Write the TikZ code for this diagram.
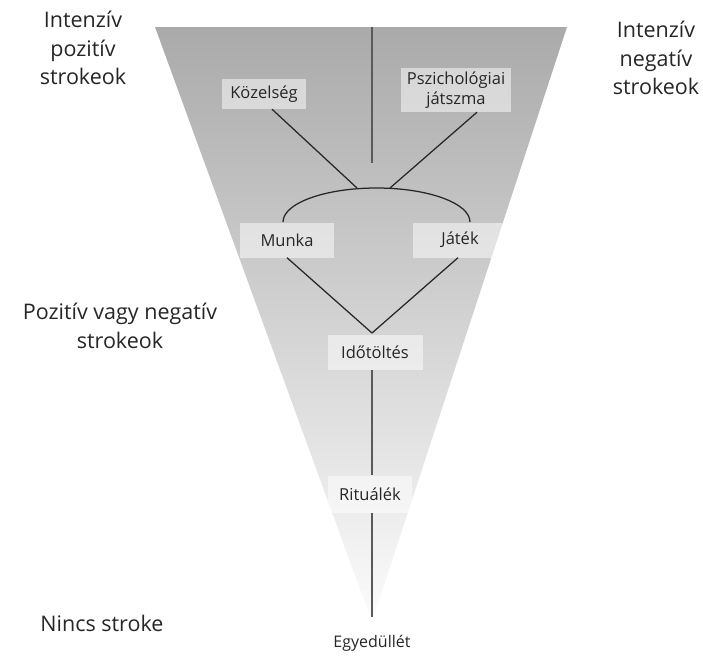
\documentclass[tikz,border=0pt]{standalone}
\usepackage{fontspec}
\setmainfont{Open Sans}
\definecolor{topgray}{RGB}{170,170,170}
\definecolor{midgray}{RGB}{212,212,212}
\definecolor{botgray}{RGB}{252,252,252}
\definecolor{linegray}{RGB}{90,90,90}
\tikzset{
  lbl/.style={align=center, font=\fontsize{21.5}{28.5}\selectfont, text=black!85},
  box/.style={fill=white, fill opacity=0.5, text opacity=1, inner sep=0pt, align=center,
              font=\fontsize{16.5}{20}\selectfont, text=black!85},
  conn/.style={draw=black!85, line width=1.25pt},
  vline/.style={draw=linegray, line width=1.25pt}
}
\begin{document}
\begin{tikzpicture}[x=1pt,y=-1pt]
\useasboundingbox (0,0) rectangle (703,659);
\shade[top color=topgray, middle color=midgray, bottom color=botgray]
  (155,27) -- (567,27) -- (372,622) -- cycle;
% labels
\node[lbl] (ipos) at (83,48) {Intenzív\\pozitív\\strokeok};
\node[lbl] (ineg) at (656,58) {Intenzív\\negatív\\strokeok};
\node[lbl] (pvn) at (120,326) {Pozitív vagy negatív\\strokeok};
\node[lbl] (nincs) at (102,623) {Nincs stroke};
\node[font=\fontsize{16}{18}\selectfont, text=black!85] (egy) at (372,643) {Egyedüllét};
% boxes
\node[box, minimum width=84pt, minimum height=30pt] (koz) at (264,94) {Közelség};
\node[box, minimum width=110pt, minimum height=44pt] (pszi) at (456,90) {Pszichológiai\\játszma};
\node[box, minimum width=94pt, minimum height=35pt] (munka) at (287,240) {Munka};
\node[box, minimum width=94pt, minimum height=35pt] (jatek) at (460,240) {Játék};
\node[box, minimum width=95pt, minimum height=35pt] (ido) at (375,352) {Időtöltés};
\node[box, minimum width=84pt, minimum height=37pt] (rit) at (370,494) {Rituálék};
% coordinates
\coordinate (vtop) at (372,27);
\coordinate (vbot) at (372,163);
\coordinate (al) at (283,222);
\coordinate (a1) at (357,188);
\coordinate (a2) at (390,188);
\coordinate (apex) at (372,333);
\coordinate (endb) at (372,617);
% connectors
\draw[vline] (vtop) -- (vbot);
\draw[conn] ([xshift=8pt]koz.south) -- (a1);
\draw[conn] ([xshift=21pt]pszi.south) -- (a2);
\draw[conn] (al) arc[start angle=180, end angle=360, x radius=93.5, y radius=34];
\draw[conn] (munka.south) -- (apex);
\draw[conn] ([xshift=-2pt]jatek.south) -- (apex);
\draw[vline] (372,370) -- (rit.north -| 372,0);
\draw[vline] (rit.south -| 372,0) -- (endb);
\end{tikzpicture}
\end{document}
